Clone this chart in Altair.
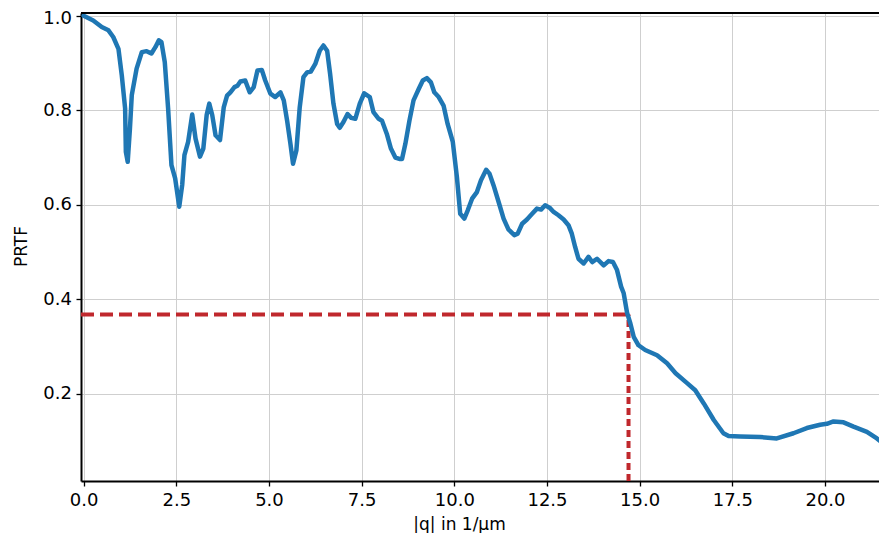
import altair as alt
import pandas as pd

q = [0.0, 0.26, 0.49, 0.67, 0.80, 0.94, 1.03, 1.12, 1.14, 1.19, 1.25, 1.30, 1.43, 1.57, 1.70,
     1.83, 1.94, 2.03, 2.10, 2.19, 2.28, 2.37, 2.47, 2.58, 2.66, 2.72, 2.82, 2.93, 3.02, 3.14,
     3.23, 3.32, 3.39, 3.47, 3.56, 3.68, 3.78, 3.87, 3.96, 4.07, 4.15, 4.23, 4.36, 4.48, 4.59,
     4.69, 4.81, 4.90, 5.04, 5.17, 5.31, 5.40, 5.49, 5.58, 5.65, 5.74, 5.83, 5.93, 6.03, 6.13,
     6.25, 6.37, 6.47, 6.57, 6.65, 6.74, 6.84, 6.91, 7.01, 7.12, 7.22, 7.33, 7.45, 7.57, 7.72,
     7.82, 7.96, 8.05, 8.18, 8.29, 8.41, 8.52, 8.59, 8.68, 8.79, 8.90, 9.04, 9.15, 9.26, 9.37,
     9.46, 9.58, 9.71, 9.82, 9.96, 10.07, 10.16, 10.27, 10.36, 10.48, 10.61, 10.72, 10.86, 10.95,
     11.06, 11.20, 11.33, 11.46, 11.62, 11.71, 11.83, 11.96, 12.10, 12.23, 12.34, 12.45, 12.57,
     12.68, 12.81, 12.95, 13.08, 13.17, 13.26, 13.35, 13.49, 13.62, 13.72, 13.85, 14.03, 14.16,
     14.28, 14.39, 14.50, 14.57, 14.66, 14.75, 14.84, 14.97, 15.15, 15.47, 15.74, 15.97, 16.28,
     16.50, 16.73, 17.00, 17.26, 17.40, 17.71, 18.25, 18.70, 19.15, 19.51, 19.87, 20.05, 20.23,
     20.50, 20.77, 21.13, 21.40, 21.67, 21.80]
prtf = [1.0, 0.99, 0.976, 0.969, 0.955, 0.93, 0.874, 0.804, 0.712, 0.691, 0.761, 0.832, 0.888,
        0.923, 0.925, 0.920, 0.934, 0.948, 0.944, 0.902, 0.804, 0.684, 0.656, 0.596, 0.642, 0.705,
        0.733, 0.791, 0.740, 0.702, 0.719, 0.790, 0.814, 0.790, 0.747, 0.737, 0.806, 0.831, 0.838,
        0.849, 0.852, 0.861, 0.863, 0.838, 0.849, 0.884, 0.885, 0.863, 0.835, 0.828, 0.838, 0.821,
        0.778, 0.729, 0.687, 0.715, 0.806, 0.870, 0.880, 0.882, 0.898, 0.926, 0.937, 0.926, 0.877,
        0.814, 0.771, 0.763, 0.775, 0.792, 0.784, 0.782, 0.814, 0.836, 0.828, 0.796, 0.782, 0.778,
        0.750, 0.719, 0.700, 0.697, 0.697, 0.729, 0.778, 0.821, 0.845, 0.863, 0.868, 0.859, 0.838,
        0.828, 0.810, 0.771, 0.733, 0.659, 0.581, 0.571, 0.588, 0.613, 0.627, 0.652, 0.674, 0.666,
        0.641, 0.605, 0.571, 0.548, 0.536, 0.539, 0.560, 0.569, 0.581, 0.592, 0.590, 0.599, 0.594,
        0.585, 0.578, 0.569, 0.557, 0.539, 0.511, 0.486, 0.476, 0.490, 0.479, 0.486, 0.472, 0.481,
        0.479, 0.462, 0.427, 0.413, 0.372, 0.349, 0.321, 0.303, 0.293, 0.282, 0.265, 0.244, 0.223,
        0.208, 0.180, 0.145, 0.117, 0.111, 0.110, 0.109, 0.106, 0.117, 0.128, 0.135, 0.137, 0.142,
        0.140, 0.131, 0.120, 0.106, 0.089, 0.083]

threshold = 0.368
q_cut = 14.70
x_ticks = [0.0, 2.5, 5.0, 7.5, 10.0, 12.5, 15.0, 17.5, 20.0]
y_ticks = [0.2, 0.4, 0.6, 0.8, 1.0]

W, H = 798, 468
X_DOM = [-0.07, 21.457]
Y_DOM = [0.016, 1.0057]

curve = pd.DataFrame({"q": q, "prtf": prtf})
hline = pd.DataFrame({"x": [X_DOM[0]], "x2": [q_cut], "y": [threshold]})
vline = pd.DataFrame({"x": [q_cut], "y": [Y_DOM[0]], "y2": [threshold]})

xscale = alt.Scale(domain=X_DOM, nice=False, zero=False)
yscale = alt.Scale(domain=Y_DOM, nice=False, zero=False)

xaxis = alt.Axis(values=x_ticks, format=".1f", title="|q| in 1/µm",
                 titleX=378, titleY=43, titleBaseline="middle", titleAlign="center")
yaxis = alt.Axis(values=y_ticks, format=".1f", title="PRTF",
                 titleX=-60, titleY=233, titleBaseline="middle", titleAlign="center", titleAngle=-90,
                 labelOffset=alt.condition("datum.value >= 1", alt.value(3), alt.value(0)))

line = alt.Chart(curve).mark_line(color="#1f77b4", strokeWidth=4.5, strokeJoin="round",
                                  strokeCap="round", clip=True).encode(
    x=alt.X("q:Q", scale=xscale, axis=xaxis),
    y=alt.Y("prtf:Q", scale=yscale, axis=yaxis),
)

h = alt.Chart(hline).mark_rule(color="#c0282d", strokeWidth=4, strokeDash=[13, 6]).encode(
    x=alt.X("x:Q", scale=xscale), x2="x2:Q", y=alt.Y("y:Q", scale=yscale)
)
v = alt.Chart(vline).mark_rule(color="#c0282d", strokeWidth=4, strokeDash=[7, 4]).encode(
    x=alt.X("x:Q", scale=xscale), y=alt.Y("y:Q", scale=yscale), y2="y2:Q"
)

# top spine of the frame (right spine lies outside the picture in the reference)
top_spine = alt.Chart(hline).mark_rule(color="black", strokeWidth=2).encode(
    x=alt.value(0), x2=alt.value(W), y=alt.value(0)
)

chart = alt.layer(h, v, line, top_spine).properties(
    width=W, height=H,
    autosize=alt.AutoSizeParams(type="none"),
    padding={"left": 73, "top": 5, "right": 0, "bottom": 52},
).configure_view(
    stroke=None
).configure_axis(
    domainColor="black", domainWidth=2,
    tickColor="black", tickWidth=1.3, tickSize=5,
    gridColor="#cfcfcf", gridWidth=1,
    labelFont="DejaVu Sans", labelFontSize=18, labelColor="black",
    titleFont="DejaVu Sans", titleFontSize=17, titleColor="black", titleFontWeight="normal",
).configure_axisX(labelPadding=5).configure_axisY(labelPadding=4.5)

chart.save("out.html", embed_options={"renderer": "svg", "actions": False})
